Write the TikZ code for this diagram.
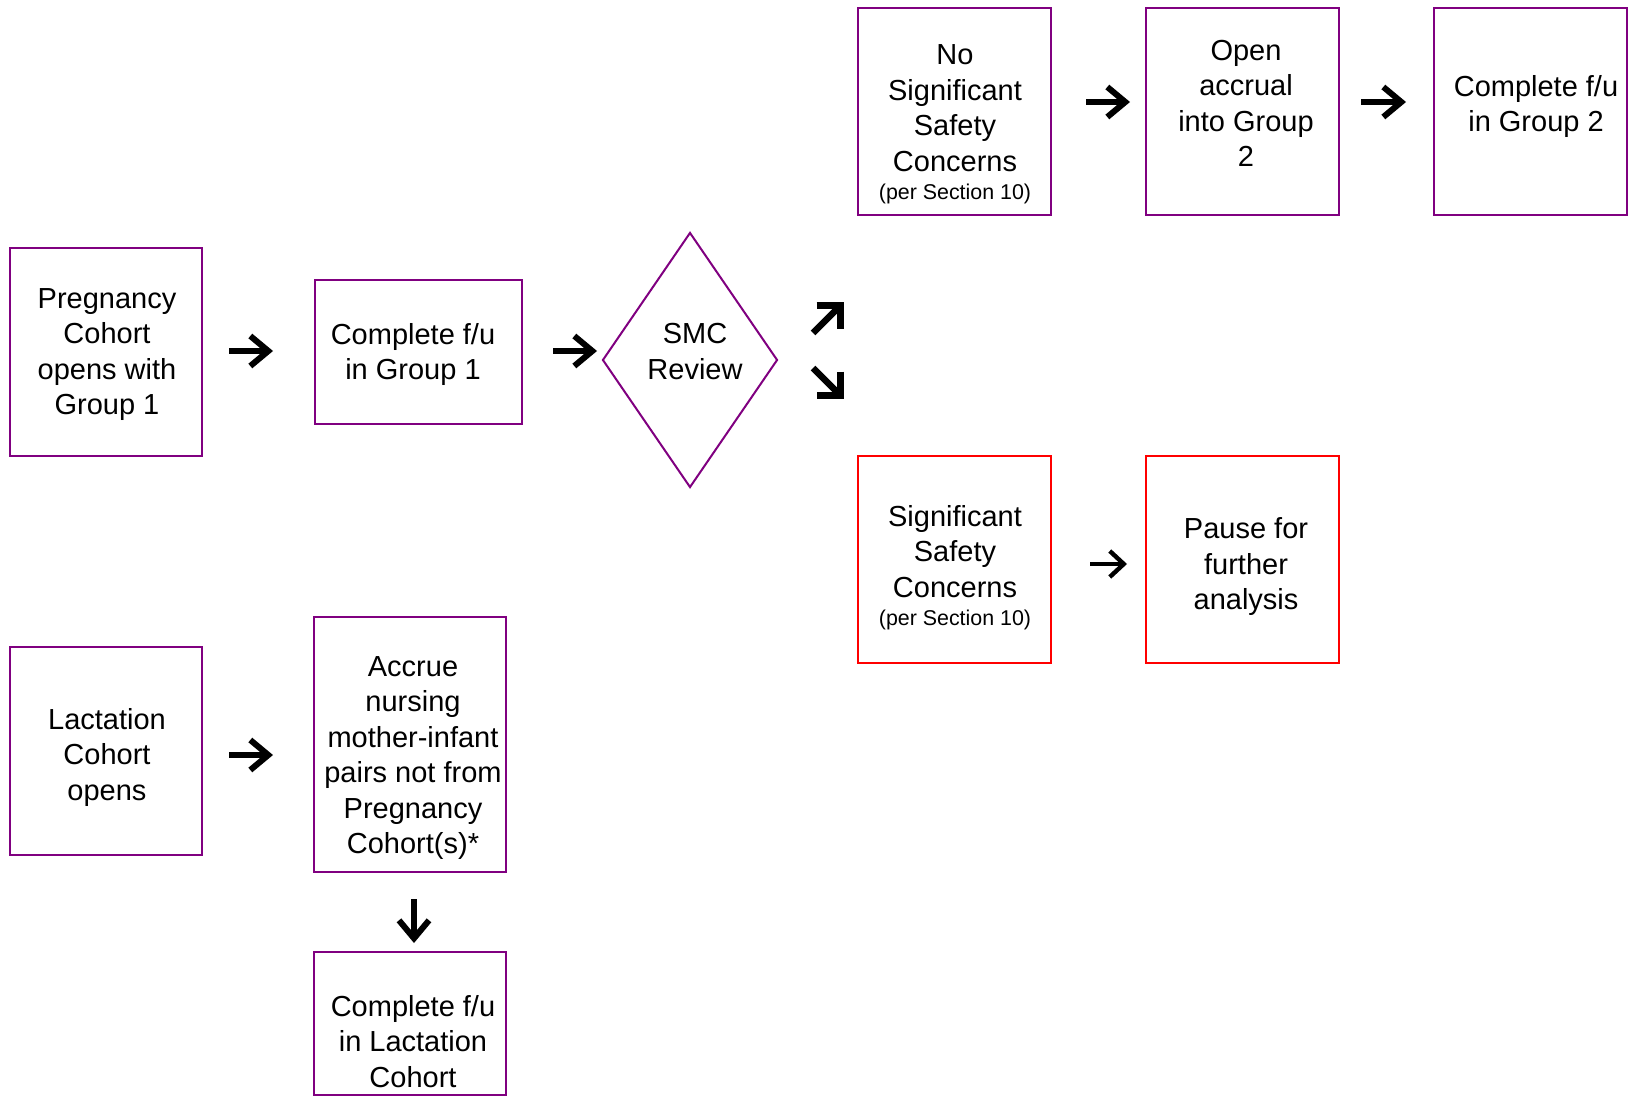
\documentclass[tikz,border=0pt]{standalone}
\usepackage{fontspec}
\setmainfont{Liberation Sans}
\usetikzlibrary{arrows.meta,shapes.geometric}
\definecolor{boxpurple}{HTML}{800080}
\definecolor{boxred}{HTML}{FF0000}
\begin{document}
\begin{tikzpicture}[x=0.5pt,y=-0.5pt,
  box/.style={draw=boxpurple,line width=1pt,rectangle,inner sep=0pt},
  redbox/.style={box,draw=boxred},
  txt/.style={align=center,font=\fontsize{14.5}{17.75}\selectfont,inner sep=0pt,anchor=north},
  arr/.style={line width=3pt,-{Straight Barb[length=9pt,width=15pt]}},
  thinarr/.style={line width=2.2pt,-{Straight Barb[length=7pt,width=13pt]}},
  darr/.style={line width=3.3pt,-{Straight Barb[length=8.5pt,width=17pt]}},
]
\useasboundingbox (0,0) rectangle (1632,1096);
\newcommand{\smallline}[1]{\\[-3.8pt]{\fontsize{10.7}{13}\selectfont #1}}
% boxes
\node[box,minimum width=96pt,minimum height=104pt] (preg) at (106,352) {};
\node[box,minimum width=103.5pt,minimum height=72pt] (cg1) at (418,352) {};
\node[diamond,draw=boxpurple,line width=1pt,inner sep=0pt,minimum width=87.5pt,minimum height=127.5pt] (smc) at (690,360) {};
\node[box,minimum width=96.5pt,minimum height=103.5pt] (nosig) at (954,112) {};
\node[box,minimum width=96.5pt,minimum height=103.5pt] (open) at (1242,112) {};
\node[box,minimum width=96.5pt,minimum height=103.5pt] (cg2) at (1530,112) {};
\node[redbox,minimum width=96.5pt,minimum height=103.5pt] (sig) at (954,559) {};
\node[redbox,minimum width=96.5pt,minimum height=103.5pt] (pause) at (1242,559) {};
\node[box,minimum width=96pt,minimum height=104pt] (lact) at (106,751) {};
\node[box,minimum width=96pt,minimum height=127.5pt] (accrue) at (410,744) {};
\node[box,minimum width=96pt,minimum height=71.5pt] (cgl) at (410,1023.5) {};
% texts
\node[txt] (tpreg) at (107,288) {Pregnancy\\Cohort\\opens with\\Group 1};
\node[txt] (tcg1) at (413,323) {Complete f/u\\in Group 1};
\node[txt] (tsmc) at (695,323) {SMC\\Review};
\node[txt] (tnosig) at (955,44.5) {No\\Significant\\Safety\\Concerns\smallline{(per Section 10)}};
\node[txt] (topen) at (1246,39.5) {Open\\accrual\\into Group\\2};
\node[txt] (tcg2) at (1536,75) {Complete f/u\\in Group 2};
\node[txt] (tsig) at (955,505) {Significant\\Safety\\Concerns\smallline{(per Section 10)}};
\node[txt] (tpause) at (1246,517.5) {Pause for\\further\\analysis};
\node[txt] (tlact) at (107,708) {Lactation\\Cohort\\opens};
\node[txt] (taccrue) at (413,656) {Accrue\\nursing\\mother-infant\\pairs not from\\Pregnancy\\Cohort(s)*};
\node[txt] (tcgl) at (413,995) {Complete f/u\\in Lactation\\Cohort};
% arrow glyphs
\coordinate (a1s) at (229,351); \coordinate (a1e) at (273,351);
\coordinate (a2s) at (553,351); \coordinate (a2e) at (597,351);
\coordinate (a3s) at (1086,102); \coordinate (a3e) at (1130,102);
\coordinate (a4s) at (1361,102); \coordinate (a4e) at (1406,102);
\coordinate (a5s) at (1090,564); \coordinate (a5e) at (1127,564);
\coordinate (a6s) at (229,755); \coordinate (a6e) at (273,755);
\coordinate (a7s) at (414,899); \coordinate (a7e) at (414,943);
\coordinate (d1s) at (813,333); \coordinate (d1e) at (844,302);
\coordinate (d2s) at (813,368); \coordinate (d2e) at (844,399);
\draw[arr] (a1s) -- (a1e);
\draw[arr] (a2s) -- (a2e);
\draw[arr] (a3s) -- (a3e);
\draw[arr] (a4s) -- (a4e);
\draw[thinarr] (a5s) -- (a5e);
\draw[arr] (a6s) -- (a6e);
\draw[arr] (a7s) -- (a7e);
\draw[darr] (d1s) -- (d1e);
\draw[darr] (d2s) -- (d2e);
\end{tikzpicture}
\end{document}
